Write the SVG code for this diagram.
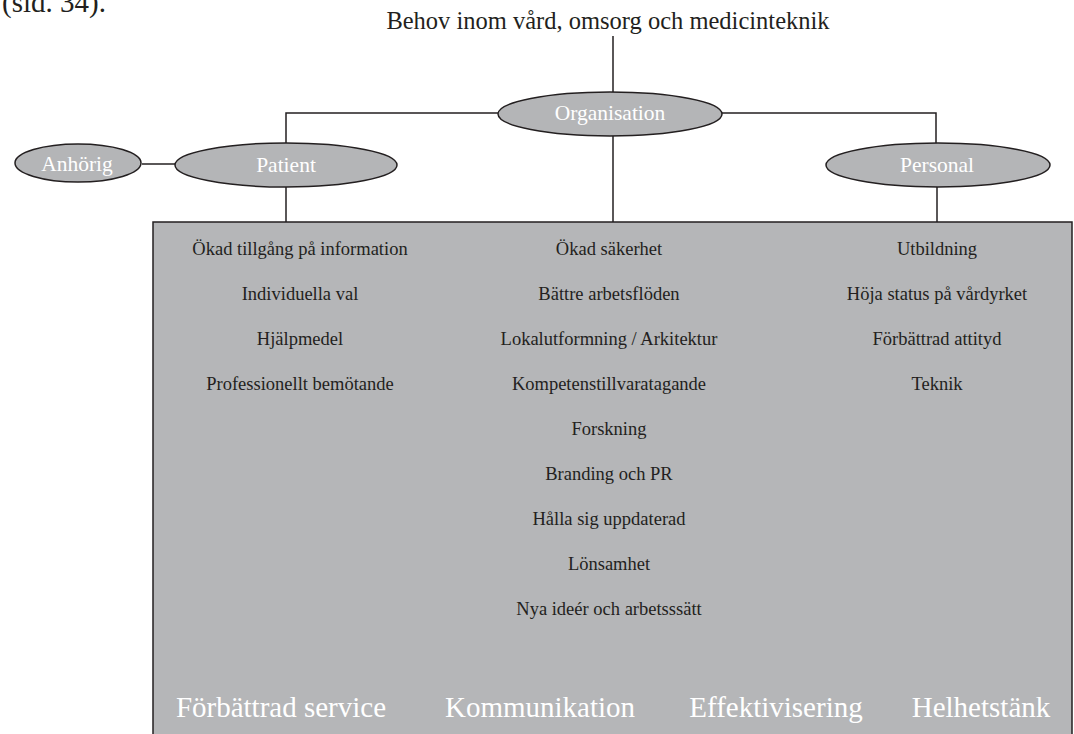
<svg xmlns="http://www.w3.org/2000/svg" width="1074" height="734" viewBox="0 0 1074 734">
<style>
.ln{stroke:#231f20;stroke-width:1.5;fill:none}
.el{fill:#b4b5b7;stroke:#231f20;stroke-width:1.5}
.el-t{font-family:"Liberation Serif",serif;font-size:21.5px;fill:#ffffff;text-anchor:middle}
.item{font-family:"Liberation Serif",serif;font-size:18.5px;fill:#231f20;text-anchor:middle}
.big{font-family:"Liberation Serif",serif;font-size:29px;fill:#ffffff;text-anchor:middle}
.top{font-family:"Liberation Serif",serif;fill:#231f20}
</style>
<rect width="1074" height="734" fill="#ffffff"/>
<text class="top" x="2" y="12" font-size="29">(sid. 34).</text>
<text class="top" x="608" y="29" font-size="24.5" text-anchor="middle">Behov inom vård, omsorg och medicinteknik</text>
<g id="connectors">
<path class="ln" d="M613 36V92"/>
<path class="ln" d="M498 113H286V143"/>
<path class="ln" d="M722 113H936V143"/>
<path class="ln" d="M142 164H175"/>
<path class="ln" d="M286 187V222"/>
<path class="ln" d="M613 136V222"/>
<path class="ln" d="M937 187V222"/>
</g>
<g id="box">
<rect x="153" y="222" width="919" height="520" fill="#b5b6b8" stroke="#231f20" stroke-width="1.5"/>
<text class="item" x="300" y="255">Ökad tillgång på information</text>
<text class="item" x="300" y="300">Individuella val</text>
<text class="item" x="300" y="345">Hjälpmedel</text>
<text class="item" x="300" y="390">Professionellt bemötande</text>
<text class="item" x="609" y="255">Ökad säkerhet</text>
<text class="item" x="609" y="300">Bättre arbetsflöden</text>
<text class="item" x="609" y="345">Lokalutformning / Arkitektur</text>
<text class="item" x="609" y="390">Kompetenstillvaratagande</text>
<text class="item" x="609" y="435">Forskning</text>
<text class="item" x="609" y="480">Branding och PR</text>
<text class="item" x="609" y="525">Hålla sig uppdaterad</text>
<text class="item" x="609" y="570">Lönsamhet</text>
<text class="item" x="609" y="615">Nya ideér och arbetsssätt</text>
<text class="item" x="937" y="255">Utbildning</text>
<text class="item" x="937" y="300">Höja status på vårdyrket</text>
<text class="item" x="937" y="345">Förbättrad attityd</text>
<text class="item" x="937" y="390">Teknik</text>
<text class="big" x="281" y="717">Förbättrad service</text>
<text class="big" x="540" y="717">Kommunikation</text>
<text class="big" x="776" y="717">Effektivisering</text>
<text class="big" x="981" y="717">Helhetstänk</text>
</g>
<g id="organisation">
<ellipse class="el" cx="610" cy="114" rx="112" ry="22"/>
<text class="el-t" x="610" y="120">Organisation</text>
</g>
<g id="patient">
<ellipse class="el" cx="286" cy="165" rx="111" ry="22"/>
<text class="el-t" x="286" y="172">Patient</text>
</g>
<g id="anhorig">
<ellipse class="el" cx="78" cy="163" rx="63" ry="19"/>
<text class="el-t" x="77" y="171">Anhörig</text>
</g>
<g id="personal">
<ellipse class="el" cx="938" cy="165" rx="112" ry="22"/>
<text class="el-t" x="937" y="172">Personal</text>
</g>
</svg>
